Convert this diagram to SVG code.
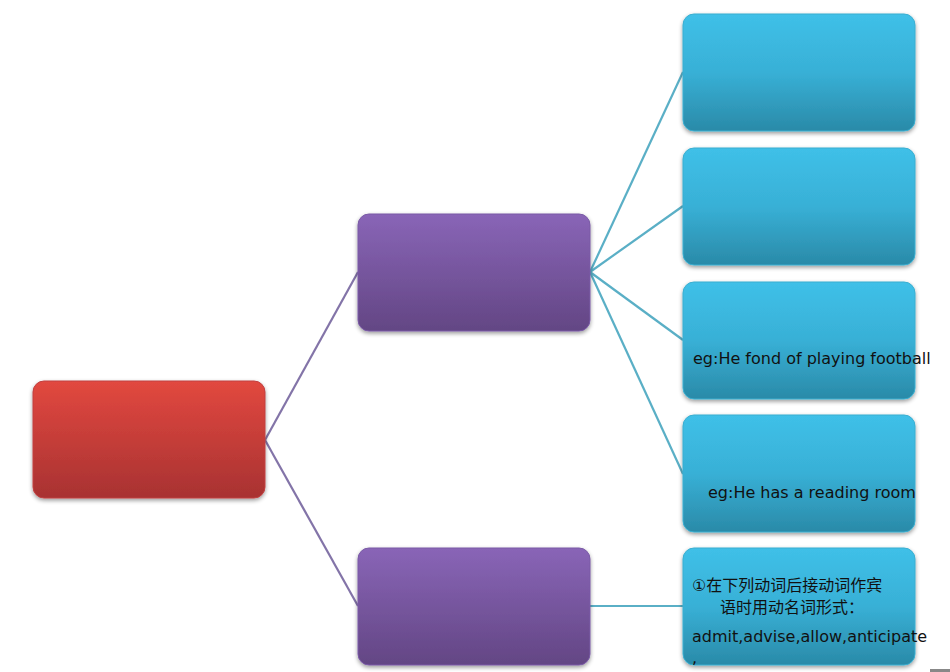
<svg xmlns="http://www.w3.org/2000/svg" width="950" height="672" viewBox="0 0 950 672">
<defs>
<linearGradient id="gRed" x1="0" y1="0" x2="0" y2="1"><stop offset="0" stop-color="#e2483f"/><stop offset="1" stop-color="#a83232"/></linearGradient>
<linearGradient id="gPur" x1="0" y1="0" x2="0" y2="1"><stop offset="0" stop-color="#8965b7"/><stop offset="1" stop-color="#634684"/></linearGradient>
<linearGradient id="gBlu" x1="0" y1="0" x2="0" y2="1"><stop offset="0" stop-color="#3fc0e8"/><stop offset="0.5" stop-color="#38b0d6"/><stop offset="1" stop-color="#2a8aa8"/></linearGradient>
<filter id="sh" x="-10%" y="-10%" width="120%" height="130%"><feGaussianBlur in="SourceAlpha" stdDeviation="2"/><feOffset dy="2"/><feComponentTransfer><feFuncA type="linear" slope="0.4"/></feComponentTransfer><feMerge><feMergeNode/><feMergeNode in="SourceGraphic"/></feMerge></filter>
</defs>
<style>
.box{filter:url(#sh)}
.red{fill:url(#gRed);stroke:#c04040;stroke-width:1}
.pur{fill:url(#gPur);stroke:#7a5aa6;stroke-width:1}
.blu{fill:url(#gBlu);stroke:#3aaed0;stroke-width:1}
.lp{stroke:#8374a8;stroke-width:2.2;fill:none}
.lb{stroke:#5aafc6;stroke-width:2.2;fill:none}
.t{font-family:"DejaVu Sans","Noto Sans CJK SC",sans-serif;font-size:16px;fill:#111}
.c{font-family:"DejaVu Sans","Noto Sans CJK SC",sans-serif;font-size:16px;fill:#111}
</style>
<rect width="950" height="672" fill="#ffffff"/>
<g id="connectors">
<line class="lp" x1="265" y1="440" x2="358" y2="272"/>
<line class="lp" x1="265" y1="440" x2="358" y2="606"/>
<line class="lb" x1="590" y1="272" x2="683" y2="72"/>
<line class="lb" x1="590" y1="272" x2="683" y2="206"/>
<line class="lb" x1="590" y1="272" x2="683" y2="340"/>
<line class="lb" x1="590" y1="272" x2="683" y2="474"/>
<line class="lb" x1="590" y1="606" x2="683" y2="606"/>
</g>
<g id="root"><rect class="box red" x="33" y="381" width="232" height="117" rx="11"/></g>
<g id="p1"><rect class="box pur" x="358" y="214" width="232" height="117" rx="11"/></g>
<g id="p2"><rect class="box pur" x="358" y="548" width="232" height="117" rx="11"/></g>
<g id="b1"><rect class="box blu" x="683" y="14" width="232" height="117" rx="11"/></g>
<g id="b2"><rect class="box blu" x="683" y="148" width="232" height="117" rx="11"/></g>
<g id="b3"><rect class="box blu" x="683" y="282" width="232" height="117" rx="11"/>
<text class="t" x="693" y="364">eg:He fond of playing football</text></g>
<g id="b4"><rect class="box blu" x="683" y="415" width="232" height="117" rx="11"/>
<text class="t" x="708" y="498">eg:He has a reading room</text></g>
<g id="b5"><rect class="box blu" x="683" y="548" width="232" height="117" rx="11"/>
<text class="c" x="692" y="591">①在下列动词后接动词作宾</text>
<text class="c" x="720" y="613">语时用动名词形式：</text>
<text class="t" x="692" y="642">admit,advise,allow,anticipate</text>
<text class="t" x="692" y="663">,</text></g>
<rect x="930" y="669" width="20" height="3" fill="#888"/>
</svg>
